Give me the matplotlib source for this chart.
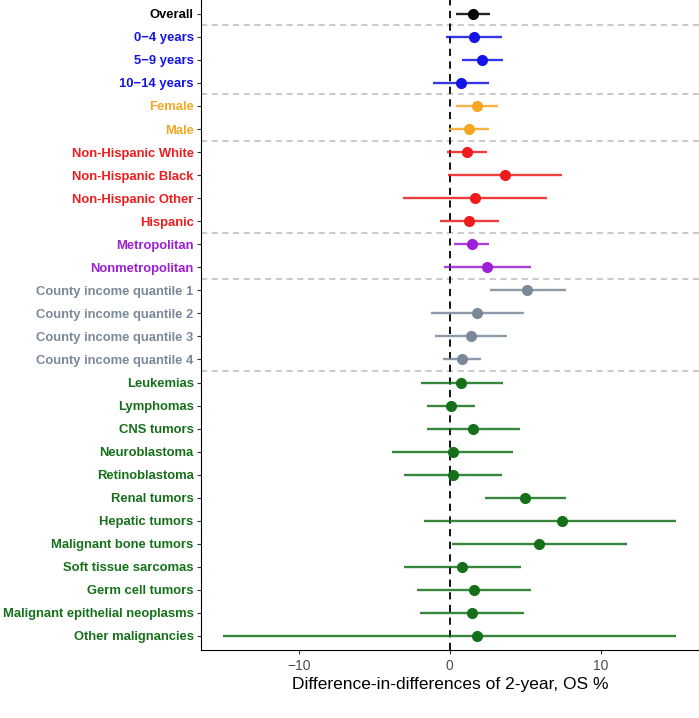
import matplotlib
matplotlib.use("Agg")
import matplotlib.pyplot as plt

# rows top to bottom
labels = ["Overall",
          "0\u22124 years", "5\u22129 years", "10\u221214 years",
          "Female", "Male",
          "Non-Hispanic White", "Non-Hispanic Black", "Non-Hispanic Other", "Hispanic",
          "Metropolitan", "Nonmetropolitan",
          "County income quantile 1", "County income quantile 2",
          "County income quantile 3", "County income quantile 4",
          "Leukemias", "Lymphomas", "CNS tumors", "Neuroblastoma", "Retinoblastoma",
          "Renal tumors", "Hepatic tumors", "Malignant bone tumors", "Soft tissue sarcomas",
          "Germ cell tumors", "Malignant epithelial neoplasms", "Other malignancies"]
est = [1.53, 1.62, 2.15, 0.74, 1.80, 1.27, 1.15, 3.66, 1.68, 1.24, 1.45, 2.48,
       5.13, 1.83, 1.39, 0.80, 0.77, 0.06, 1.56, 0.18, 0.21, 4.99, 7.46, 5.93,
       0.83, 1.62, 1.45, 1.77]
lo = [0.41, -0.24, 0.80, -1.12, 0.41, -0.06, -0.18, -0.12, -3.10, -0.68, 0.29, -0.38,
      2.65, -1.24, -0.97, -0.44, -1.92, -1.50, -1.50, -3.83, -3.01, 2.30, -1.74, 0.15,
      -3.04, -2.18, -2.00, -14.99]
hi = [2.65, 3.45, 3.51, 2.60, 3.19, 2.60, 2.48, 7.46, 6.43, 3.24, 2.60, 5.37,
      7.67, 4.90, 3.81, 2.09, 3.51, 1.68, 4.66, 4.19, 3.45, 7.70, 15.0, 11.71,
      4.69, 5.40, 4.93, 15.0]
group_sizes = [1, 3, 2, 4, 2, 4, 12]
group_colors = ["black", "#1414e6", "#f5a623", "#ee1c1c", "#9b1fd6", "#7a8898", "#15701a"]

colors = []
for n, c in zip(group_sizes, group_colors):
    colors += [c] * n

plt.rcParams['font.family'] = ['Liberation Sans', 'DejaVu Sans']

fig = plt.figure(figsize=(6.99, 7.18), dpi=100)
ax = fig.add_axes([0.287, 0.095, 0.713, 0.905])

n = len(labels)
ys = list(range(n, 0, -1))
for y, e, l, h, c in zip(ys, est, lo, hi, colors):
    ax.plot([l, h], [y, y], color=c, lw=1.7, alpha=0.85, solid_capstyle='butt', zorder=2)
    ax.plot(e, y, 'o', color=c, ms=7, zorder=3)

ax.axvline(0, color="black", ls=(0, (4, 3)), lw=1.3, zorder=1)

# group separators
pos = 0
for g in group_sizes[:-1]:
    pos += g
    ax.axhline(n - pos + 0.5, color="#bbbbbb", ls=(0, (4, 3)), lw=1.1, zorder=0)

ax.set_xlim(-16.5, 16.5)
ax.set_ylim(0.4, n + 0.6)
ax.set_yticks(ys)
ax.set_yticklabels(labels, fontweight="bold", fontsize=9.4)
for t, c in zip(ax.get_yticklabels(), colors):
    t.set_color(c)
ax.set_xticks([-10, 0, 10])
ax.set_xticklabels(["\u221210", "0", "10"], fontsize=10, color="#4d4d4d")
ax.set_xlabel("Difference-in-differences of 2-year, OS %", fontsize=12.5, labelpad=3)

ax.spines['top'].set_visible(False)
ax.spines['right'].set_visible(False)
ax.tick_params(axis='both', length=3, width=0.8, color="#333333")
ax.tick_params(axis='y', pad=2)

fig.savefig("out.png", dpi=100)
